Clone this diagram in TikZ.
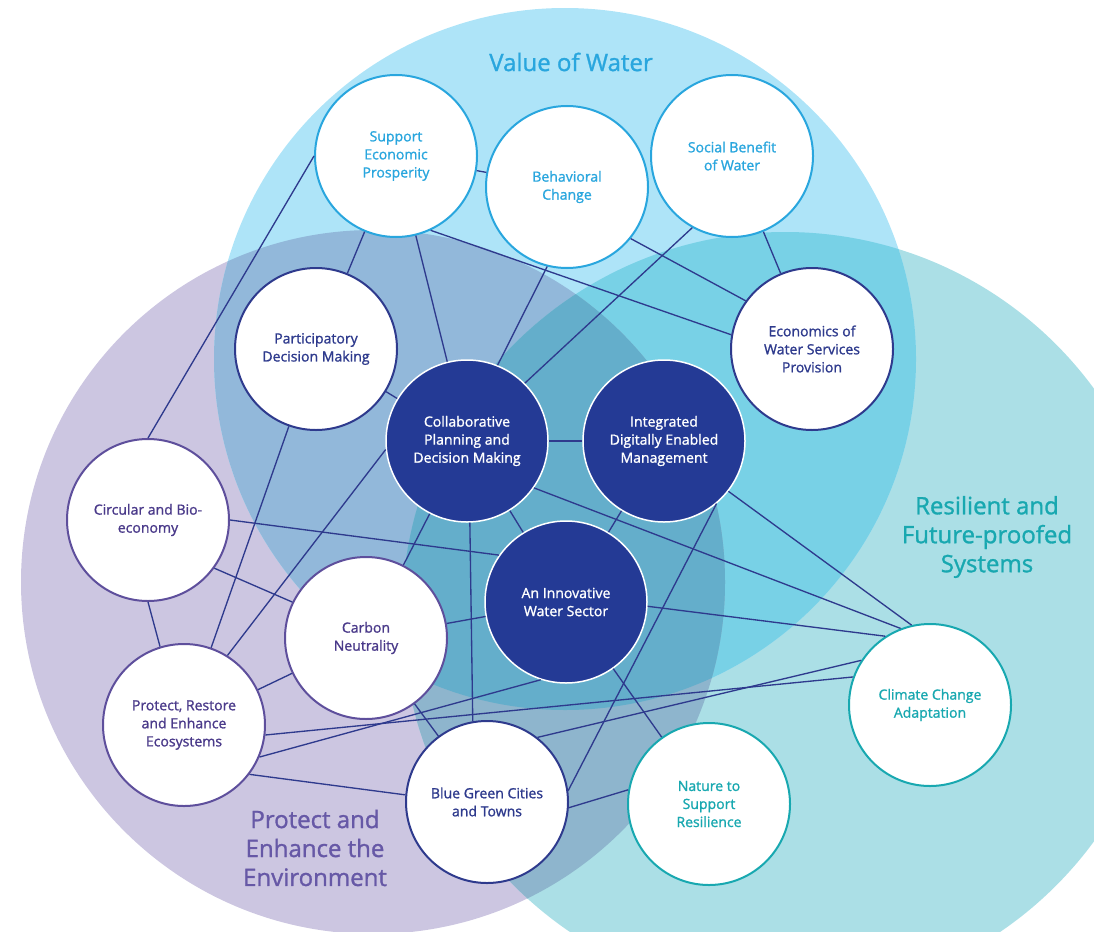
\documentclass[tikz,border=0pt]{standalone}
\usepackage{fontspec}
\setmainfont{Open Sans}[FakeBold=1.2]
\usepackage{tikz}

\definecolor{bluebg}{HTML}{AEE4F8}
\definecolor{purplebg}{HTML}{CCC6E1}
\definecolor{tealbg}{HTML}{ABDFE6}
\definecolor{bpbg}{HTML}{92B8DA}
\definecolor{btbg}{HTML}{78D1E6}
\definecolor{ptbg}{HTML}{8EB5CD}
\definecolor{bptbg}{HTML}{64AECB}
\definecolor{valblue}{HTML}{29A6DE}
\definecolor{navy}{HTML}{2E3A8D}
\definecolor{coreblue}{HTML}{243A95}
\definecolor{envpurple}{HTML}{4A3A8A}
\definecolor{envline}{HTML}{5E4F9C}
\definecolor{resteal}{HTML}{18A8B0}
\definecolor{envtitle}{HTML}{6658A6}

\begin{document}
\begin{tikzpicture}[x=0.3mm, y=-0.3mm,
	topic/.style={circle, fill=white, line width=0.6mm, minimum size=48.6mm, inner sep=0pt, align=center, font=\fontsize{12}{15.4}\selectfont},
	valtopic/.style={topic, draw=valblue, text=valblue},
	navytopic/.style={topic, draw=navy, text=navy},
	envtopic/.style={topic, draw=envline, text=envpurple},
	restopic/.style={topic, draw=resteal, text=resteal},
	core/.style={topic, fill=coreblue, draw=white, line width=0.45mm, text=white},
	link/.style={draw=navy, line width=0.4mm},
	title/.style={align=center, font=\fontsize{20.5}{24.7}\selectfont}]

		\clip (0,0) rectangle (1094,931);
		\useasboundingbox (0,0) rectangle (1094,931);

		\coordinate (valc) at (565,359);
		\coordinate (envc) at (373,582);
		\coordinate (resc) at (785,615);

		\fill[purplebg] (envc) circle [radius=352];
		\fill[tealbg] (resc) circle [radius=383];
		\fill[bluebg] (valc) circle [radius=351];
		\begin{scope}
			\clip (valc) circle [radius=351];
			\fill[bpbg] (envc) circle [radius=352];
			\fill[btbg] (resc) circle [radius=383];
		\end{scope}
		\begin{scope}
			\clip (envc) circle [radius=352];
			\fill[ptbg] (resc) circle [radius=383];
			\clip (valc) circle [radius=351];
			\fill[bptbg] (resc) circle [radius=383];
		\end{scope}

		\node[title, text=valblue] (valtitle) at (571,62) {Value of Water};
		\node[title, text=resteal] (restitle) at (987,537) {Resilient and\\Future-proofed\\Systems};
		\node[title, text=envtitle] (envtitle) at (315,848) {Protect and\\Enhance the\\Environment};

		\node[valtopic] (sep) at (396,156) {Support\\Economic\\Prosperity};
		\node[valtopic] (bc) at (567,187) {Behavioral\\Change};
		\node[valtopic] (sb) at (732,156) {Social Benefit\\of Water};
		\node[navytopic] (ews) at (812,349) {Economics of\\Water Services\\Provision};
		\node[navytopic] (pdm) at (316,349) {Participatory\\Decision Making};
		\node[core] (cpd) at (467,441) {Collaborative\\Planning and\\Decision Making};
		\node[core] (idm) at (664,441) {Integrated\\Digitally Enabled\\Management};
		\node[core] (iws) at (566,602) {An Innovative\\Water Sector};
		\node[envtopic] (cbe) at (148,520) {Circular and Bio-\\economy};
		\node[envtopic] (cn) at (366,638) {Carbon\\Neutrality};
		\node[envtopic] (pre) at (184,725) {Protect, Restore\\and Enhance\\Ecosystems};
		\node[navytopic] (bgc) at (487,802) {Blue Green Cities\\and Towns};
		\node[restopic] (nsr) at (709,804) {Nature to\\Support\\Resilience};
		\node[restopic] (cca) at (930,705) {Climate Change\\Adaptation};

		\draw[link] (sep) -- (bc);
		\draw[link] (sep) -- (pdm);
		\draw[link] (sep) -- (cpd);
		\draw[link] (sep.-65) -- (ews.170);
		\draw[link] (sep.180) -- (cbe.90);
		\draw[link] (bc.-104) -- (cpd.68);
		\draw[link] (bc.-39) -- (ews.144);
		\draw[link] (sb.-119) -- (cpd.45);
		\draw[link] (sb) -- (ews);
		\draw[link] (pdm) -- (cpd);
		\draw[link] (pdm) -- (pre);
		\draw[link] (cpd.186) -- (pre.58);
		\draw[link] (cpd) -- (idm);
		\draw[link] (cpd) -- (cn);
		\draw[link] (cpd.-88) -- (bgc.100);
		\draw[link] (cpd) -- (iws);
		\draw[link] (cpd.-35) -- (cca.111);
		\draw[link] (idm) -- (iws);
		\draw[link] (idm.-38) -- (cca.103);
		\draw[link] (idm.-50) -- (bgc.8);
		\draw[link] (cbe.0) -- (iws.145);
		\draw[link] (cbe.-36) -- (cn.154);
		\draw[link] (cbe.-90) -- (pre.107);
		\draw[link] (cn) -- (pre);
		\draw[link] (cn) -- (iws);
		\draw[link] (cn) -- (bgc);
		\draw[link] (pre.-23) -- (iws.-108);
		\draw[link] (pre.-7) -- (cca.160);
		\draw[link] (pre.-37) -- (bgc.175);
		\draw[link] (iws.-3) -- (cca.123);
		\draw[link] (iws) -- (nsr);
		\draw[link] (bgc.-4) -- (nsr.170);
		\draw[link] (bgc.52) -- (cca.147);

	\end{tikzpicture}
\end{document}
